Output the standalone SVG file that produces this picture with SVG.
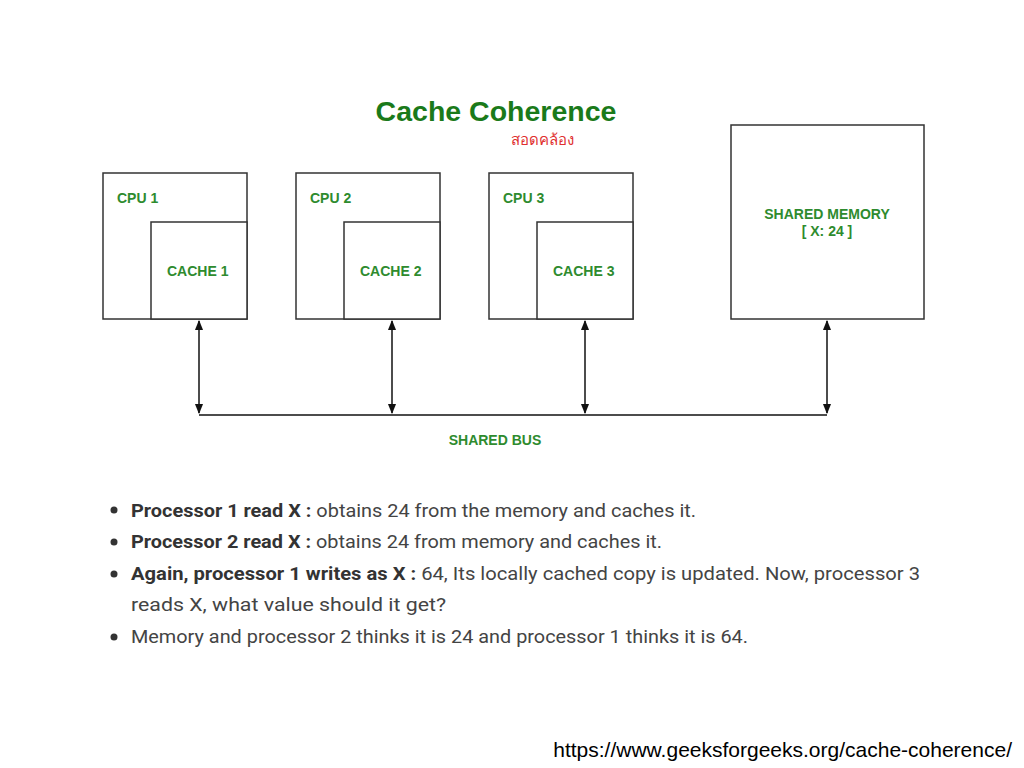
<svg xmlns="http://www.w3.org/2000/svg" width="1024" height="768" viewBox="0 0 1024 768">
<style>
.box{fill:#fff;stroke:#333;stroke-width:1.5}
.lbl{font-family:"Liberation Sans",Arial,sans-serif;font-weight:bold;font-size:14px;fill:#2e8b2e}
.b{font-family:"Roboto","Liberation Sans",sans-serif;font-size:19px;fill:#444}
.bb{font-weight:bold;fill:#333}
.ln{stroke:#111;stroke-width:1.5;fill:none}
</style>
<defs><marker id="ah" viewBox="0 0 10 10" refX="9" refY="5" markerWidth="7" markerHeight="7" orient="auto-start-reverse"><path d="M0,1 L10,5 L0,9 z" fill="#111"/></marker></defs>
<rect width="1024" height="768" fill="#fff"/>
<text x="496" y="121" text-anchor="middle" font-family="Liberation Sans,Arial,sans-serif" font-weight="bold" font-size="28.5" fill="#1a7a1a">Cache Coherence</text>
<text x="542" y="145" text-anchor="middle" font-family="Noto Sans,sans-serif" font-size="15" fill="#e03030">สอดคล้อง</text>
<g id="cpu1"><rect class="box" x="103" y="173" width="144" height="146"/><rect class="box" x="151" y="222" width="96" height="97"/><text class="lbl" x="117" y="203">CPU 1</text><text class="lbl" x="167" y="276">CACHE 1</text></g>
<g id="cpu2"><rect class="box" x="296" y="173" width="144" height="146"/><rect class="box" x="344" y="222" width="96" height="97"/><text class="lbl" x="310" y="203">CPU 2</text><text class="lbl" x="360" y="276">CACHE 2</text></g>
<g id="cpu3"><rect class="box" x="489" y="173" width="144" height="146"/><rect class="box" x="537" y="222" width="96" height="97"/><text class="lbl" x="503" y="203">CPU 3</text><text class="lbl" x="553" y="276">CACHE 3</text></g>
<g id="mem"><rect class="box" x="731" y="125" width="193" height="194"/><text class="lbl" x="827" y="219" text-anchor="middle">SHARED MEMORY</text><text class="lbl" x="827" y="236" text-anchor="middle">[ X: 24 ]</text></g>
<g id="connectors">
<line class="ln" x1="199" y1="321" x2="199" y2="413" marker-start="url(#ah)" marker-end="url(#ah)"/>
<line class="ln" x1="392" y1="321" x2="392" y2="413" marker-start="url(#ah)" marker-end="url(#ah)"/>
<line class="ln" x1="585" y1="321" x2="585" y2="413" marker-start="url(#ah)" marker-end="url(#ah)"/>
<line class="ln" x1="827" y1="321" x2="827" y2="413" marker-start="url(#ah)" marker-end="url(#ah)"/>
<line class="ln" x1="199" y1="415" x2="827" y2="415"/>
</g>
<text class="lbl" x="495" y="445" text-anchor="middle">SHARED BUS</text>
<g fill="#333"><circle cx="114" cy="510" r="3.5"/><circle cx="114" cy="542" r="3.5"/><circle cx="114" cy="574" r="3.5"/><circle cx="114" cy="637" r="3.5"/></g>
<text class="b" x="131" y="517" textLength="565" lengthAdjust="spacingAndGlyphs"><tspan class="bb">Processor 1 read X : </tspan>obtains 24 from the memory and caches it.</text>
<text class="b" x="131" y="548" textLength="531" lengthAdjust="spacingAndGlyphs"><tspan class="bb">Processor 2 read X : </tspan>obtains 24 from memory and caches it.</text>
<text class="b" x="131" y="580" textLength="789" lengthAdjust="spacingAndGlyphs"><tspan class="bb">Again, processor 1 writes as X : </tspan>64, Its locally cached copy is updated. Now, processor 3</text>
<text class="b" x="131" y="611" textLength="315" lengthAdjust="spacingAndGlyphs">reads X, what value should it get?</text>
<text class="b" x="131" y="643" textLength="617" lengthAdjust="spacingAndGlyphs">Memory and processor 2 thinks it is 24 and processor 1 thinks it is 64.</text>
<text x="1012" y="757" text-anchor="end" font-family="Liberation Sans,Arial,sans-serif" font-size="21" fill="#000">https://www.geeksforgeeks.org/cache-coherence/</text>
</svg>
